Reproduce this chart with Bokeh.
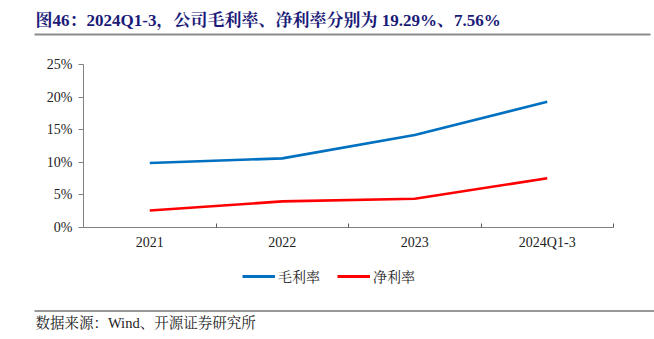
from bokeh.plotting import figure
from bokeh.layouts import column, row
from bokeh.models import (ColumnDataSource, FixedTicker, LinearAxis, Range1d, Label,
                          Legend, LegendItem, BoxAnnotation)
from bokeh.embed import file_html
from bokeh.resources import INLINE

categories = ["2021", "2022", "2023", "2024Q1-3"]
gross_margin = [9.9, 10.6, 14.2, 19.29]
net_margin = [2.6, 4.0, 4.4, 7.56]
y_ticks = [0, 5, 10, 15, 20, 25]
series_names = ["毛利率", "净利率"]
series_colors = ["#0070C0", "#FF0000"]

TITLE = "图46：2024Q1-3，公司毛利率、净利率分别为 19.29%、7.56%"
SOURCE = "数据来源：Wind、开源证券研究所"

SERIF = "Liberation Serif, Noto Serif CJK SC, Noto Sans CJK SC"
W = 654


def blank_fig(h):
    f = figure(width=W, height=h, output_backend="svg", toolbar_location=None,
               x_range=Range1d(0, 1), y_range=Range1d(0, 1),
               min_border_left=0, min_border_right=0, min_border_top=0, min_border_bottom=0,
               x_axis_type=None, y_axis_type=None)
    f.outline_line_color = None
    f.grid.visible = False
    f.background_fill_color = "white"
    f.border_fill_color = "white"
    return f


# ---- header ----
header = blank_fig(45)
header.add_layout(Label(x=35, y=25, x_units="screen", y_units="screen", text=TITLE,
                        text_font=SERIF, text_font_size="17px", text_font_style="bold",
                        text_color="#1A1A78", text_baseline="middle"))
header.add_layout(BoxAnnotation(left=34, right=650, top=12, bottom=10,
                                left_units="screen", right_units="screen",
                                top_units="screen", bottom_units="screen",
                                fill_color="#8C8C8C", fill_alpha=1, line_color=None))

# ---- main chart ----
xs = [i + 0.5 for i in range(len(categories))]
src = ColumnDataSource(dict(x=xs, gm=gross_margin, nm=net_margin))

p = figure(width=W, height=210, output_backend="svg", toolbar_location=None,
           x_range=Range1d(0, len(categories)), y_range=Range1d(0, 25),
           min_border_left=83, min_border_right=41, min_border_top=19, min_border_bottom=28,
           x_axis_type=None, y_axis_type=None)
p.outline_line_color = None
p.grid.visible = False
p.background_fill_color = "white"
p.border_fill_color = "white"

p.line("x", "gm", source=src, line_color=series_colors[0], line_width=2.6)
p.line("x", "nm", source=src, line_color=series_colors[1], line_width=2.6)

xaxis = LinearAxis(ticker=FixedTicker(ticks=xs, minor_ticks=[1, 2, 3, 4]))
xaxis.major_label_overrides = {x: c for x, c in zip(xs, categories)}
xaxis.major_tick_in = 0
xaxis.major_tick_out = 0
xaxis.minor_tick_in = 4
xaxis.minor_tick_out = 0
xaxis.minor_tick_line_color = "#595959"
xaxis.axis_line_color = "#808080"
xaxis.major_label_text_font = SERIF
xaxis.major_label_text_font_size = "14px"
xaxis.major_label_text_color = "#222222"
xaxis.major_label_standoff = 7
p.add_layout(xaxis, "below")

yaxis = LinearAxis(ticker=FixedTicker(ticks=y_ticks, minor_ticks=[]))
yaxis.major_label_overrides = {t: f"{t}%" for t in y_ticks}
yaxis.major_tick_in = 0
yaxis.major_tick_out = 5
yaxis.major_tick_line_color = "#808080"
yaxis.axis_line_color = "#808080"
yaxis.major_label_text_font = SERIF
yaxis.major_label_text_font_size = "14px"
yaxis.major_label_text_color = "#222222"
yaxis.major_label_standoff = 6
p.add_layout(yaxis, "left")

# ---- footer: legend, rule, source ----
footer = blank_fig(84)
nan = float("nan")
leg_items = []
for name, col in zip(series_names, series_colors):
    legend_src = ColumnDataSource(dict(x=[nan], y=[nan]))
    r = footer.line("x", "y", source=legend_src, line_color=col, line_width=3)
    leg_items.append(LegendItem(label=name, renderers=[r]))
legend = Legend(items=leg_items, orientation="horizontal", location=(242, 53),
                label_text_font=SERIF, label_text_font_size="14px",
                label_text_color="#222222",
                glyph_width=33, label_standoff=3, spacing=17,
                border_line_color=None, background_fill_alpha=0,
                margin=0, padding=4)
footer.add_layout(legend)
footer.add_layout(BoxAnnotation(left=34, right=654, top=29, bottom=28,
                                left_units="screen", right_units="screen",
                                top_units="screen", bottom_units="screen",
                                fill_color="#333333", fill_alpha=1, line_color=None))
footer.add_layout(Label(x=35, y=17, x_units="screen", y_units="screen", text=SOURCE,
                        text_font=SERIF, text_font_size="14.5px", text_color="#222222",
                        text_baseline="middle"))

layout = column(row(header), row(p), row(footer), spacing=0)
open("out.html", "w").write(file_html(layout, INLINE))
